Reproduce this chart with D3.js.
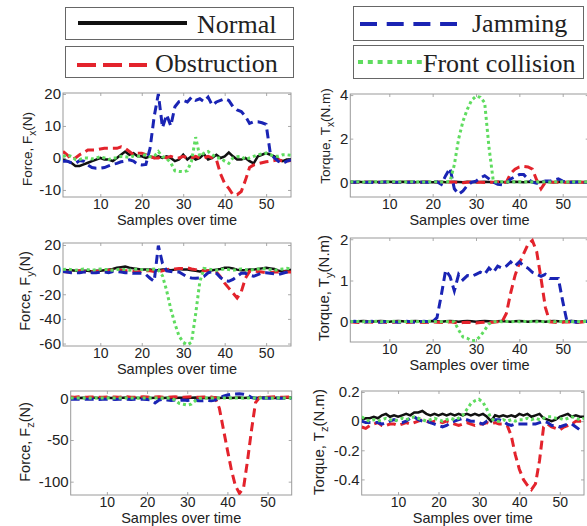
<!DOCTYPE html>
<html>
<head>
<meta charset="utf-8">
<script src="https://cdn.jsdelivr.net/npm/d3@7"></script>
<style>
  body { margin: 0; background: #fff; }
</style>
</head>
<body>
<script>
// samples 1..56 on every x axis
var samples = d3.range(1, 57);
var xTicks = [10, 20, 30, 40, 50];

var seriesNames = ['Normal', 'Obstruction', 'Jamming', 'Front collision'];

/* ---------- Force x ---------- */
var normalFx = [-0.5,-1,-1.5,-2.5,-2.5,-2,-1.5,-1,-0.5,0, -0.5,-0.5,-1,0,1,2,1,1.5,0.5,0.5, 0,0.5,0,0.5,0,0.5,0,-1,-0.5,1, -0.5,0.5,-0.5,0,1.2,-0.5,0,1,0,0.5, 1.7,0.5,-0.5,-0.5,0,-1,-1.7,0.5,1,1.5, 1,0.5,-0.5,-1,-0.5,-0.5];
var obstructionFx = [2,1,-0.5,0,1,1.7,2.5,2.5,2.5,2.8, 3,3,3,3,3.5,3,2,1,1.5,1.5, 1,0.5,0,0,0.5,0,0.5,0,0,0.5, 0,0,0.5,0,0,0.5,0,-0.5,-5,-8, -9.5,-11.5,-11.5,-10.5,-7,-3,-2.2,-1.8,-1.5,-1.2, -1,-0.8,-0.6,-1,-1,-0.8];
var jammingFx = [-1,-1,-1.5,-1.7,-0.8,-1,-2.2,-3,-3.2,-3.2, -3,-2.5,-2,-1.7,-1.2,-1,-0.6,-1,-2,-2.2, -2,3,13,20,9.5,13.5,10,16,17.6,18, 17.5,19,18,18.5,17.6,19,16.5,17.5,18,18.5, 18,16,15,14.5,13,10.8,11.3,11.3,11,10.5, 1.5,0,-1.1,-1.7,-1,-0.6];
var collisionFx = [0.4,1,0.5,-0.5,-0.5,0,0,-0.3,0,0.4, 0,-0.5,0,0,0.5,0.4,0.2,0.6,0.5,0.8, 1,0.4,0.5,2,0.4,-0.2,-1.5,-4,-4.2,-4.3, -4,-1,6.5,0.5,1.5,2,1,0,0,-1, -1.7,0,0.4,0.5,-0.5,0,0.5,1,1.3,1.5, 1,0.6,0.5,1,1,0.8];
var fxTicks = [-10, 0, 10, 20];

/* ---------- Torque x ---------- */
var normalTx = [0.02,0.01,0.02,0,0.01,0.02,0.01,0,0.01,0.02, 0.01,0,0.02,0.01,0.02,0,0.01,0.02,0.01,0, 0.01,0.02,0,0.01,0.02,0.01,0,0.02,0.01,0, 0.01,0.02,0.01,0,0.02,0.01,0,0.01,0.02,0.01, 0,0.02,0.01,0,0.01,0.02,0.01,0,0.02,0.01, 0,0.01,0.02,0.01,0,0.01];
var obstructionTx = [0,-0.01,0,0.01,0,-0.01,0,0,0.01,0, -0.01,0,0,0.01,0,0,-0.01,0,0.01,0, 0,-0.01,0,0.01,0,0,-0.02,0,0.01,0, 0,-0.01,0,0,0.01,0,0,0.4,0.6,0.7, 0.72,0.7,0.6,0.1,-0.3,0,0.01,0,0,-0.01, 0,0.01,0,0,0,0];
var jammingTx = [0,0,0.01,0,0,-0.01,0,0,0.01,0, 0,0,-0.01,0,0,0.01,0,0,0,0, 0.02,-0.1,0.3,0.65,-0.3,-0.55,-0.4,-0.15,0,0.05, 0.2,0.3,0.15,0,-0.1,-0.12,-0.05,0.15,0.25,0.35, 0.35,0.15,0,-0.05,0,0.05,0.05,0.1,0.15,0.05, 0,0,0,0.01,0,0];
var collisionTx = [0.02,0.01,0.02,0.01,0.02,0.01,0.02,0.01,0.02,0.01, 0.02,0.01,0.02,0.01,0.02,0.01,0.02,0.01,0.02,0.01, 0.02,0.01,0.02,0.03,0.8,2.0,2.8,3.35,3.77,3.95, 3.9,3.65,1.6,0.03,0.01,0.02,0.01,0.02,0.01,0.02, 0.01,0.02,0.01,0.02,0.01,0.02,0.01,0.02,0.01,0.02, 0.01,0.02,0.01,0.02,0.01,0.02];
var txTicks = [0, 2, 4];

/* ---------- Force y ---------- */
var normalFy = [0,-0.5,-0.5,-1,-1,-1,-1,-1.5,-1,-1, -0.5,0,0.5,1.5,2,2.5,1.5,1,0.5,0, 0,0,-0.5,-0.5,0,0,-0.5,0,0.5,0, 0,-0.5,-1,-1.5,-1,-1,-0.5,0,0.5,1.5, 1.5,1,0,-0.5,-0.5,0,0,0.5,1,1.5, 1,0.5,-1,-1.5,-1,0];
var obstructionFy = [-1.5,-2,-2,-1.5,-1,-1.5,-2,-2,-1.5,-1, -1,-0.5,-0.5,0,-0.5,-1,-1,-1.5,-2,-1.5, -1,-1,-1.5,-1.5,-1,0,0.5,0.5,1,1, 1.4,0.5,0,-0.5,-1,-1,-1,-2,-6,-11, -15,-19,-23,-18,-7,-1.5,-1,-1.5,-2,-2.5, -2.5,-2,-2,-2,-2,-2];
var jammingFy = [-1.5,-2,-2.5,-2.7,-2.5,-2,-2,-2.5,-2.5,-2, -2,-2.5,-1.5,-1.5,-2,-2.5,-2.5,-3,-3,-3, -4,-7,-9.5,19.5,5,-1,-1.5,-2,-2,-4, -6,-6.8,-7,-6.8,-5.5,-2.7,-1.5,-3,-6.5,-9, -9.5,-8,-5.5,-3,-3,-4.5,-5.4,-4,-2.7,-2.5, -3,-3.5,-4,-3,-2,-0.5];
var collisionFy = [0,0.5,0,-0.5,0,0.5,0,-0.5,0,0.5, 0,0,-0.5,0,0.5,0,-0.5,0,0.5,0, -0.5,0,0.5,0,-5,-17,-32,-44,-54,-59, -61,-59,-36,-10,1,0.5,0,-0.5,0,0.5, 0,-0.5,0,0.5,0,-0.5,0,0.5,1,0.5, 0,-0.5,0,0.5,1,0.5];
var fyTicks = [-60, -40, -20, 0, 20];

/* ---------- Torque y ---------- */
var normalTy = [0.01,0,0.01,0.02,0.01,0,0.01,0.02,0.01,0, 0.01,0.02,0.01,0,0.01,0.02,0.01,0,0.01,0.02, 0.01,0,0.01,0.02,0.01,0,0.01,0.02,0.01,0, 0.01,0.02,0.01,0,0.01,0.02,0.01,0,0.01,0.02, 0.01,0,0.01,0.02,0.01,0,0.01,0.02,0.01,0, 0.01,0.02,0.01,0,0.01,0.02];
var obstructionTy = [0,-0.01,-0.02,-0.01,0,-0.01,-0.02,0,-0.01,-0.02, -0.01,0,-0.01,-0.02,-0.01,0,-0.01,-0.02,-0.01,0, -0.01,-0.02,-0.01,0,-0.02,-0.03,-0.02,-0.01,-0.02,-0.03, -0.02,-0.01,-0.02,-0.01,0,0,0.2,0.7,1.12,1.42, 1.65,1.88,1.97,1.7,1.05,0.35,0,-0.01,-0.02,-0.01, 0,-0.01,-0.02,-0.01,0,-0.01];
var jammingTy = [0,0.01,0,-0.01,0,0.01,0,-0.01,0,0.01, 0,-0.01,0,0.01,0,-0.01,0,0.01,0,0, 0.1,0.65,1.25,1.1,0.75,1.15,1.02,1.12,1.1,1.15, 1.2,1.15,1.3,1.2,1.35,1.3,1.35,1.45,1.35,1.45, 1.35,1.3,1.2,1.15,1.1,1.15,1.05,1.05,1.05,0.5, 0,0.01,-0.01,0,0.01,0];
var collisionTy = [0.01,0,0.01,0,0.01,0,0.01,0,0.01,0, 0.01,0,0.01,0,0.01,0,0.01,0,0.01,0, 0.01,0,0.01,0,0,-0.2,-0.37,-0.4,-0.46,-0.45, -0.35,-0.2,-0.05,0,0.01,0,0.01,0,0.01,0, 0.01,0,0.01,0,0.01,0,0.01,0,0.01,0, 0.01,0,0.01,0,0.01,0];
var tyTicks = [0, 1, 2];

/* ---------- Force z ---------- */
var normalFz = [0.6,0.9,0.4,0.8,0.5,0.9,0.6,0.3,0.7,0.9, 0.5,0.8,0.4,0.7,1,0.6,0.8,0.4,0.7,0.9, 0.5,0.8,0.6,0.4,0.7,0.9,0.5,0.8,0.6,0.3, 0.7,0.9,0.5,0.8,0.4,0.6,0.9,0.5,0.7,0.8, 0.4,0.6,0.9,0.5,0.7,0.8,0.4,0.6,0.9,0.7, 0.5,0.8,0.4,0.6,0.9,0.6];
var obstructionFz = [1.5,1.2,1.8,1.5,1.2,1.6,1.8,1.4,1.2,1.6, 1.8,1.5,1.2,1.6,1.8,1.4,1.2,1.6,1.8,1.5, 1.2,1.6,1.8,1.4,1.2,1.6,1.8,1.5,1.2,1.6, 1.8,1.4,1.2,1.6,1.8,1.5,0.5,-12,-37,-62, -86,-105,-114,-108,-75,-38,-5,1,1.5,1.2, 1.6,1.8,1.4,1.2,1.6,1.5];
var jammingFz = [-1,-1.2,-1,-1.3,-1,-1.2,-1,-1.3,-1,-1.2, -1,-1.3,-1,-1.2,-1,-1.3,-1,-1.2,-1,-1.5, -2,-5.5,-2,-1,-2,-2.5,-2,-2.5,-2,-2.5, -2,-2.5,-3,-3,-2.5,-3,-2,0,2.5,4, 5,5.2,5.5,5,4,1,0,0,0.3,0, 0,0.3,0,0,0.3,0];
var collisionFz = [0.5,0.3,0.5,0.3,0.5,0.3,0.5,0.3,0.5,0.3, 0.5,0.3,0.5,0.3,0.5,0.3,0.5,0.3,0.5,0.3, 0.5,0.3,0.5,0.3,0.5,0,-2,-6,-7,-8, -7,-3,0,0.3,0.5,0.3,0.5,0.3,0.5,0.3, 0.5,0.3,0.5,0.3,0.5,0.3,0.5,0.3,0.5,0.3, 0.5,0.3,0.5,0.3,0.5,0.3];
var fzTicks = [-100, -50, 0];

/* ---------- Torque z ---------- */
var normalTz = [0.01,0.02,0.02,0.03,0.02,0.04,0.05,0.03,0.04,0.03, 0.04,0.05,0.04,0.06,0.06,0.07,0.05,0.04,0.05,0.04, 0.05,0.04,0.05,0.04,0.05,0.04,0.05,0.04,0.05,0.04, 0.05,0.03,0,0.04,0.03,0.04,0.03,0.04,0.03,0.05, 0.04,0.05,0.03,0.04,0.05,0.02,0.01,0,0.01,0.03, 0.04,0.05,0.03,0.04,0.03,0.03];
var obstructionTz = [-0.04,-0.05,-0.03,-0.02,-0.01,-0.03,-0.03,-0.02,-0.02,-0.03, -0.02,-0.01,-0.02,-0.01,0,0.01,0,-0.01,0,0, -0.01,0,-0.01,-0.02,-0.03,-0.02,-0.01,-0.02,-0.03,-0.02, -0.02,-0.01,-0.02,-0.01,-0.02,-0.02,-0.03,-0.1,-0.23,-0.33, -0.4,-0.44,-0.47,-0.43,-0.27,-0.04,-0.02,-0.04,-0.05,-0.06, -0.04,-0.03,-0.02,0,0,0];
var jammingTz = [0,-0.01,-0.01,-0.01,-0.01,-0.02,-0.01,0,0.01,0, -0.01,0,0.02,0.03,0.01,0,0,-0.01,-0.02,-0.03, -0.04,-0.03,-0.01,0,0.01,0.02,0.01,0,0,-0.01, -0.02,0,0.01,0.01,0.01,0,-0.02,-0.03,-0.02,-0.02, -0.02,-0.02,-0.02,-0.02,-0.01,0,-0.01,-0.03,-0.03,-0.04, -0.03,-0.02,-0.02,-0.04,-0.06,-0.06];
var collisionTz = [0.03,0.01,0,0.01,0,0.01,0.02,0.01,0,0.01, 0.02,0.01,0.02,0.03,0.02,0.01,0,0.01,0.02,0.01, 0,0.01,0.02,0.01,0.02,0.04,0.08,0.12,0.14,0.15, 0.13,0.08,0.02,0,0,0.01,0,0.01,0,0.01, 0.01,0.02,0.01,0.02,0.01,0.02,0.03,0.03,0.02,0.02, 0.01,0.02,0.03,0.02,0.01,0.02];
var tzTicks = [-0.4, -0.2, 0, 0.2];

// styles, same order as seriesNames
var colors = ['#111111', '#e3232c', '#1a24b4', '#5fdc5f'];
var dashes = [null, '9,5', '9,5', '3,3'];

var font = '"Liberation Sans", Arial, sans-serif';

var panels = [
  { name: 'Force, F', sub: 'x', unit: '(N)', series: [normalFx, obstructionFx, jammingFx, collisionFx], yDomain: [-12.2, 20.3], yTicks: fxTicks,
    left: 63, right: 291, top: 93, bottom: 197, labelX: 27, labelY: 149, labelSize: 13.5 },
  { name: 'Torque, T', sub: 'x', unit: '(N.m)', series: [normalTx, obstructionTx, jammingTx, collisionTx], yDomain: [-0.68, 4.05], yTicks: txTicks,
    left: 350.3, right: 588.7, top: 94, bottom: 197, labelX: 325, labelY: 136, labelSize: 13.5 },
  { name: 'Force, F', sub: 'y', unit: '(N)', series: [normalFy, obstructionFy, jammingFy, collisionFy], yDomain: [-62, 21.6], yTicks: fyTicks,
    left: 63, right: 291, top: 243, bottom: 346, labelX: 25, labelY: 291, labelSize: 14.5 },
  { name: 'Torque, T', sub: 'y', unit: '(N.m)', series: [normalTy, obstructionTy, jammingTy, collisionTy], yDomain: [-0.49, 2.03], yTicks: tyTicks,
    left: 350.3, right: 588.7, top: 238, bottom: 342, labelX: 324, labelY: 288, labelSize: 15 },
  { name: 'Force, F', sub: 'z', unit: '(N)', series: [normalFz, obstructionFz, jammingFz, collisionFz], yDomain: [-116, 8.8], yTicks: fzTicks,
    left: 70.7, right: 291.7, top: 391, bottom: 495, labelX: 25, labelY: 442, labelSize: 14.5 },
  { name: 'Torque, T', sub: 'z', unit: '(N.m)', series: [normalTz, obstructionTz, jammingTz, collisionTz], yDomain: [-0.507, 0.207], yTicks: tzTicks,
    left: 361.7, right: 584, top: 391, bottom: 495, labelX: 319, labelY: 442, labelSize: 15 }
];

var svg = d3.select('body').append('svg')
  .attr('width', 587)
  .attr('height', 526)
  .style('display', 'block');

/* ---------- legend boxes ---------- */
var legendBoxes = [
  { x: 65, y: 7, w: 228, h: 32, x1: 78, x2: 187, ly: 23, tx: 197, ty: 33, lineDash: null },
  { x: 65, y: 46, w: 228, h: 31, x1: 77, x2: 147, ly: 65, tx: 155, ty: 72, lineDash: '19,7' },
  { x: 353, y: 6, w: 230, h: 34, x1: 360, x2: 457, ly: 24, tx: 472, ty: 32, lineDash: '17,9.7' },
  { x: 353, y: 45, w: 230, h: 33, x1: 358, x2: 422, ly: 62, tx: 423, ty: 72, lineDash: '5,4.8' }
];

legendBoxes.forEach(function (b, i) {
  svg.append('rect')
    .attr('x', b.x + 0.5).attr('y', b.y + 0.5)
    .attr('width', b.w).attr('height', b.h)
    .attr('fill', '#fff').attr('stroke', '#666').attr('stroke-width', 1);
  svg.append('line')
    .attr('x1', b.x1).attr('x2', b.x2).attr('y1', b.ly).attr('y2', b.ly)
    .attr('stroke', colors[i]).attr('stroke-width', 4)
    .attr('stroke-dasharray', b.lineDash);
  svg.append('text')
    .attr('x', b.tx).attr('y', b.ty)
    .attr('font-family', '"Liberation Serif", "Times New Roman", serif')
    .attr('font-size', 26)
    .attr('fill', '#222')
    .text(seriesNames[i]);
});

/* ---------- panels ---------- */
panels.forEach(function (p, k) {
  var x = d3.scaleLinear().domain([1, 56]).range([p.left, p.right]);
  var y = d3.scaleLinear().domain(p.yDomain).range([p.bottom, p.top]);
  var g = svg.append('g');

  g.append('clipPath').attr('id', 'clip' + k)
    .append('rect')
    .attr('x', p.left).attr('y', p.top)
    .attr('width', p.right - p.left).attr('height', p.bottom - p.top);

  var fmt = function (d) { return String(d); };

  var bottomAxis = g.append('g')
    .attr('transform', 'translate(0,' + p.bottom + ')')
    .call(d3.axisBottom(x).tickValues(xTicks).tickSize(-3).tickPadding(2).tickFormat(fmt));
  var topAxis = g.append('g')
    .attr('transform', 'translate(0,' + p.top + ')')
    .call(d3.axisTop(x).tickValues(xTicks).tickSize(-3).tickFormat(''));
  var leftAxis = g.append('g')
    .attr('transform', 'translate(' + p.left + ',0)')
    .call(d3.axisLeft(y).tickValues(p.yTicks).tickSize(-3).tickPadding(2).tickFormat(fmt));
  var rightAxis = g.append('g')
    .attr('transform', 'translate(' + p.right + ',0)')
    .call(d3.axisRight(y).tickValues(p.yTicks).tickSize(-3).tickFormat(''));

  [bottomAxis, topAxis, leftAxis, rightAxis].forEach(function (a) {
    a.select('.domain').remove();
    a.selectAll('line').attr('stroke', '#aaa');
    a.attr('font-family', font).attr('font-size', 15);
    a.selectAll('text').attr('fill', '#222');
  });
  bottomAxis.attr('font-size', 14);

  g.append('rect')
    .attr('x', p.left).attr('y', p.top)
    .attr('width', p.right - p.left).attr('height', p.bottom - p.top)
    .attr('fill', 'none').attr('stroke', '#9a9a9a').attr('stroke-width', 1);

  var line = d3.line()
    .x(function (d, i) { return x(samples[i]); })
    .y(function (d) { return y(d); });

  var lines = g.append('g').attr('clip-path', 'url(#clip' + k + ')');
  p.series.forEach(function (s, i) {
    lines.append('path')
      .datum(s)
      .attr('d', line)
      .attr('fill', 'none')
      .attr('stroke', colors[i])
      .attr('stroke-width', i == 0 ? 2.5 : 3)
      .attr('stroke-dasharray', dashes[i]);
  });

  // x title
  g.append('text')
    .attr('x', (p.left + p.right) / 2)
    .attr('y', p.bottom + 28)
    .attr('text-anchor', 'middle')
    .attr('font-family', font)
    .attr('font-size', 14.5)
    .attr('fill', '#222')
    .text('Samples over time');

  // y title with subscript
  var t = g.append('text')
    .attr('transform', 'translate(' + p.labelX + ',' + p.labelY + ') rotate(-90)')
    .attr('text-anchor', 'middle')
    .attr('dy', '0.35em')
    .attr('font-family', font)
    .attr('font-size', p.labelSize)
    .attr('fill', '#222');
  t.append('tspan').text(p.name);
  t.append('tspan').attr('dy', 4).attr('font-size', p.labelSize * 0.75).text(p.sub);
  t.append('tspan').attr('dy', -4).text(p.unit);
});
</script>
</body>
</html>
